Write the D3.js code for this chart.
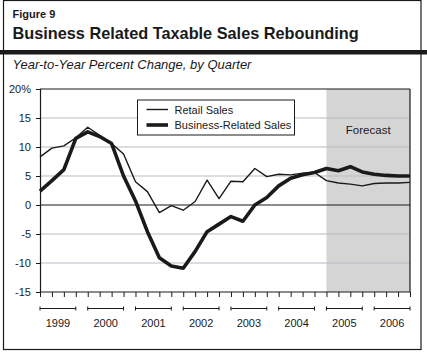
<!DOCTYPE html>
<html>
<head>
<meta charset="utf-8">
<script src="https://cdn.jsdelivr.net/npm/d3@7"></script>
<style>
  html, body { margin: 0; padding: 0; background: #fff; }
  svg { display: block; font-family: "Liberation Sans", Arial, Helvetica, sans-serif; }
</style>
</head>
<body>
<svg id="chart" width="427" height="353"></svg>
<script>
const years = ["1999", "2000", "2001", "2002", "2003", "2004", "2005", "2006"];
const quarters = years.flatMap(y => ["Q1", "Q2", "Q3", "Q4"].map(q => y + " " + q));
const retailSales = [8.3, 9.8, 10.2, 11.6, 13.4, 12.0, 10.6, 8.8,
                     4.0, 2.3, -1.3, -0.1, -0.9, 0.6, 4.3, 1.1,
                     4.1, 4.0, 6.3, 4.9, 5.3, 5.2, 5.5, 5.6,
                     4.2, 3.8, 3.6, 3.3, 3.7, 3.8, 3.8, 3.9];
const businessSales = [2.4, 4.2, 6.1, 11.5, 12.6, 11.8, 10.6, 5.0,
                       0.7, -4.6, -9.1, -10.5, -10.9, -8.0, -4.6, -3.3,
                       -2.0, -2.8, 0.0, 1.3, 3.3, 4.6, 5.2, 5.6,
                       6.3, 5.9, 6.6, 5.7, 5.3, 5.1, 5.0, 5.0];
const yTicks = [-15, -10, -5, 0, 5, 10, 15, 20];
const yTickLabels = ["-15", "-10", "-5", "0", "5", "10", "15", "20%"];
const forecastStart = "2005 Q1";
const seriesNames = ["Retail Sales", "Business-Related Sales"];

const svg = d3.select("#chart");
const ink = "#1a1a1a";

const x = d3.scaleLinear().domain([0, quarters.length - 1]).range([40, 410]);
const y = d3.scaleLinear().domain([-15, 20]).range([292, 89]);

// Outer frame
svg.append("rect").attr("x", 3.5).attr("y", 0.5).attr("width", 417.5).attr("height", 349)
  .attr("fill", "none").attr("stroke", ink).attr("stroke-width", 1.2);

// Header
svg.append("text").attr("x", 12.5).attr("y", 17.5).attr("font-size", 11).attr("font-weight", "bold")
  .attr("fill", ink).text("Figure 9");
svg.append("text").attr("x", 12.5).attr("y", 38.5).attr("font-size", 16.3).attr("font-weight", "bold")
  .attr("fill", ink).text("Business Related Taxable Sales Rebounding");
svg.append("rect").attr("x", 0).attr("y", 50).attr("width", 427).attr("height", 4.5).attr("fill", ink);
svg.append("text").attr("x", 12.5).attr("y", 68.5).attr("font-size", 13).attr("font-style", "italic")
  .attr("fill", ink).text("Year-to-Year Percent Change, by Quarter");

// Forecast shading
const fi = quarters.indexOf(forecastStart);
svg.append("rect").attr("x", x(fi)).attr("y", y(20)).attr("width", x(quarters.length - 1) - x(fi))
  .attr("height", y(-15) - y(20)).attr("fill", "#d5d5d5");

// Gridlines
svg.append("g").selectAll("line").data(yTicks.filter(t => t !== 0 && t !== 20 && t !== -15)).join("line")
  .attr("x1", x(0)).attr("x2", x(quarters.length - 1))
  .attr("y1", d => y(d)).attr("y2", d => y(d))
  .attr("stroke", "#b9b9c6").attr("stroke-width", 1);

// Plot border top/right and zero line
svg.append("line").attr("x1", x(0)).attr("x2", x(quarters.length - 1)).attr("y1", y(20)).attr("y2", y(20))
  .attr("stroke", ink).attr("stroke-width", 1.2);
svg.append("line").attr("x1", x(quarters.length - 1)).attr("x2", x(quarters.length - 1)).attr("y1", y(20)).attr("y2", y(-15))
  .attr("stroke", ink).attr("stroke-width", 1.2);
svg.append("line").attr("x1", x(0)).attr("x2", x(quarters.length - 1)).attr("y1", y(0)).attr("y2", y(0))
  .attr("stroke", ink).attr("stroke-width", 1.2);

// Y axis
const yAxis = d3.axisLeft(y).tickValues(yTicks).tickSize(4).tickPadding(5)
  .tickFormat((d, i) => yTickLabels[i]);
const gy = svg.append("g").attr("transform", `translate(${x(0)},0)`).call(yAxis);
gy.select(".domain").attr("stroke", ink).attr("stroke-width", 1.2);
gy.selectAll(".tick line").attr("stroke", ink);
gy.selectAll(".tick text").attr("font-size", 11).attr("fill", ink)
  .attr("font-family", "'Liberation Sans', Arial, sans-serif");

// X axis (quarter ticks)
const xAxis = d3.axisBottom(x).tickValues(d3.range(quarters.length)).tickSize(5).tickFormat("");
const gx = svg.append("g").attr("transform", `translate(0,${y(-15)})`).call(xAxis);
gx.select(".domain").attr("stroke", ink).attr("stroke-width", 1.2).attr("d", `M${x(0)},0H${x(quarters.length - 1)}`);
gx.selectAll(".tick line").attr("stroke", ink);

// Year brackets and labels
const yb = svg.append("g");
years.forEach((yr, k) => {
  const a = x(4 * k), b = x(4 * k + 3);
  yb.append("line").attr("x1", a).attr("x2", b).attr("y1", 308.5).attr("y2", 308.5).attr("stroke", ink).attr("stroke-width", 1);
  yb.append("line").attr("x1", a).attr("x2", a).attr("y1", 306.5).attr("y2", 310.5).attr("stroke", ink).attr("stroke-width", 1);
  yb.append("line").attr("x1", b).attr("x2", b).attr("y1", 306.5).attr("y2", 310.5).attr("stroke", ink).attr("stroke-width", 1);
  yb.append("text").attr("x", (a + b) / 2).attr("y", 326.5).attr("text-anchor", "middle")
    .attr("font-size", 11).attr("fill", ink).text(yr);
});

// Forecast label
svg.append("text").attr("x", (x(fi) + x(quarters.length - 1)) / 2).attr("y", 133.5).attr("text-anchor", "middle")
  .attr("font-size", 11.5).attr("fill", ink).text("Forecast");

// Lines
const line = d3.line().x((d, i) => x(i)).y(d => y(d));
svg.append("path").datum(retailSales).attr("d", line).attr("fill", "none")
  .attr("stroke", ink).attr("stroke-width", 1.4).attr("stroke-linejoin", "round");
svg.append("path").datum(businessSales).attr("d", line).attr("fill", "none")
  .attr("stroke", ink).attr("stroke-width", 3.6).attr("stroke-linejoin", "round");

// Legend
const lg = svg.append("g");
lg.append("rect").attr("x", 137.5).attr("y", 100).attr("width", 157).attr("height", 35)
  .attr("fill", "#fff").attr("stroke", ink).attr("stroke-width", 1);
lg.append("line").attr("x1", 146.5).attr("x2", 168).attr("y1", 109.5).attr("y2", 109.5).attr("stroke", ink).attr("stroke-width", 1.4);
lg.append("line").attr("x1", 146.5).attr("x2", 168).attr("y1", 125).attr("y2", 125).attr("stroke", ink).attr("stroke-width", 3.6);
lg.append("text").attr("x", 174.5).attr("y", 113.5).attr("font-size", 11).attr("fill", ink).text(seriesNames[0]);
lg.append("text").attr("x", 174.5).attr("y", 129).attr("font-size", 11).attr("fill", ink).text(seriesNames[1]);
</script>
</body>
</html>
